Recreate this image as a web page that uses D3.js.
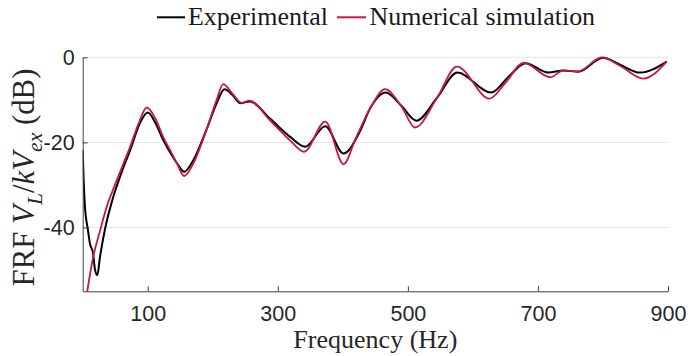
<!DOCTYPE html>
<html>
<head>
<meta charset="utf-8">
<script src="https://cdn.jsdelivr.net/npm/d3@7"></script>
<style>
  html, body { margin: 0; padding: 0; background: #fff; }
  svg { display: block; }
</style>
</head>
<body>
<svg id="chart" width="693" height="356"></svg>
<script>
// ---- data ----
const expFreq = [0, 1.5, 3.5, 8, 11, 16, 19, 22.5, 26.6, 34, 47, 60, 73, 88, 100, 112, 124, 135, 145, 156, 170, 190, 206, 218, 230, 242, 257, 288, 319, 342, 373, 401, 426, 442, 466, 490, 513, 545, 576, 628, 657, 681, 716, 739, 762, 800, 827, 857, 898];
const expVals = [-21.8, -29, -35.2, -40.5, -43.7, -46.1, -50, -51.2, -46.9, -40.6, -32.8, -27, -21.8, -15.5, -13.0, -15.5, -19.5, -22.5, -24.9, -26.9, -24.2, -17.1, -10.8, -7.5, -8.8, -10.8, -10.4, -14.4, -18.7, -21, -16.2, -22.6, -17.5, -12, -8.3, -11.4, -14.9, -9.5, -3.6, -8.3, -4.2, -1.4, -3.6, -3.1, -3.4, -0.1, -1.8, -3.6, -1.0];

const simFreq = [0, 7, 16, 27, 37, 47, 60, 73, 86, 98.5, 112, 124, 135, 145, 156, 170, 190, 206, 216, 230, 244.6, 256.3, 288, 320, 340.5, 373, 401, 420, 442, 465, 490, 511, 545, 575.4, 625.5, 650, 678, 719, 739, 762, 798, 826, 862, 898];
const simVals = [-62, -55, -47, -40.6, -35.1, -31, -26, -21, -15.5, -11.8, -14.5, -18.8, -22, -25, -27.9, -25, -17.2, -10, -6.3, -8.5, -10.7, -10.2, -14.8, -19.7, -22.2, -15.1, -25.1, -19, -12, -7.5, -11.5, -16.5, -9.5, -2.2, -9.7, -6, -1.3, -4.7, -3.1, -3.3, 0, -2, -5, -1.0];

const xTicks = [100, 300, 500, 700, 900];
const yTicks = [0, -20, -40];
const xDomain = [0, 900];
const yDomain = [-55, 0];
const seriesNames = ["Experimental", "Numerical simulation"];
const seriesColors = ["#000000", "#c8193c"];

// ---- layout ----
const L = 82.7, R = 668, T = 57.3, B = 291.3;
const svg = d3.select("#chart");
const x = d3.scaleLinear().domain(xDomain).range([L, R]);
const y = d3.scaleLinear().domain(yDomain).range([B, T]);

const sans = "'Liberation Sans', Arial, Helvetica, sans-serif";
const serif = "'Liberation Serif', 'Times New Roman', serif";

function fitWidth(textSel, target, startSize) {
  textSel.attr("font-size", startSize);
  const w = textSel.node().getComputedTextLength();
  textSel.attr("font-size", startSize * target / w);
}

// grid
svg.append("g").selectAll("line").data(yTicks).join("line")
  .attr("x1", L).attr("x2", R)
  .attr("y1", d => y(d)).attr("y2", d => y(d))
  .attr("stroke", "#e6e6e6").attr("stroke-width", 1);

// clip
svg.append("defs").append("clipPath").attr("id", "clip")
  .append("rect").attr("x", L).attr("y", T - 6).attr("width", R - L).attr("height", B - T + 6);

// lines
const line = d3.line().curve(d3.curveMonotoneX);
const plot = svg.append("g").attr("clip-path", "url(#clip)");
plot.append("path")
  .attr("d", line(expFreq.map((f, i) => [x(f), y(expVals[i])])))
  .attr("fill", "none").attr("stroke", seriesColors[0]).attr("stroke-width", 2).attr("stroke-linejoin", "round");
plot.append("path")
  .attr("d", line(simFreq.map((f, i) => [x(f), y(simVals[i])])))
  .attr("fill", "none").attr("stroke", seriesColors[1]).attr("stroke-width", 1.8).attr("stroke-linejoin", "round");

// axes
const axisColor = "#404040";
const gx = svg.append("g").attr("transform", `translate(0,${B})`)
  .call(d3.axisBottom(x).tickValues(xTicks).tickSizeInner(-5).tickSizeOuter(0).tickPadding(14.5).tickFormat(d3.format("d")));
const gy = svg.append("g").attr("transform", `translate(${L},0)`)
  .call(d3.axisLeft(y).tickValues(yTicks).tickSizeInner(-5).tickSizeOuter(0).tickPadding(8).tickFormat(d => d === 0 ? "0" : "-" + Math.abs(d)));
[gx, gy].forEach(g => {
  g.select(".domain").attr("stroke", axisColor).attr("stroke-width", 1);
  g.selectAll(".tick line").attr("stroke", axisColor).attr("stroke-width", 1);
  g.selectAll(".tick text").attr("fill", "#262626").attr("font-family", sans).attr("font-size", 21.5);
});

// x label
const xl = svg.append("text").attr("x", (L + R) / 2).attr("y", 348)
  .attr("text-anchor", "middle").attr("font-family", serif).attr("fill", "#262626")
  .text("Frequency (Hz)");
fitWidth(xl, 164, 24);

// y label
const yl = svg.append("text")
  .attr("transform", "translate(34,177.5) rotate(-90)")
  .attr("text-anchor", "middle").attr("font-family", serif).attr("fill", "#262626");
yl.append("tspan").text("FRF ");
yl.append("tspan").attr("font-style", "italic").text("V");
yl.append("tspan").attr("font-style", "italic").attr("font-size", "70%").attr("dy", "0.35em").text("L");
yl.append("tspan").attr("dy", "-0.245em").text("/");
yl.append("tspan").attr("font-style", "italic").text("kV");
yl.append("tspan").attr("font-style", "italic").attr("font-size", "70%").attr("dy", "0.35em").text("ex");
yl.append("tspan").attr("dy", "-0.245em").text(" (dB)");
fitWidth(yl, 218, 24);

// legend
const legY = 17.3;
const legendItems = [
  { x1: 157, x2: 185, tx: 188, w: 140 },
  { x1: 337, x2: 366, tx: 369.5, w: 225.7 }
];
legendItems.forEach((it, i) => {
  svg.append("line").attr("x1", it.x1).attr("x2", it.x2).attr("y1", legY).attr("y2", legY)
    .attr("stroke", seriesColors[i]).attr("stroke-width", 2);
  const t = svg.append("text").attr("x", it.tx).attr("y", 24.5)
    .attr("font-family", serif).attr("fill", "#1a1a1a").text(seriesNames[i]);
  fitWidth(t, it.w, 24);
});
</script>
</body>
</html>
